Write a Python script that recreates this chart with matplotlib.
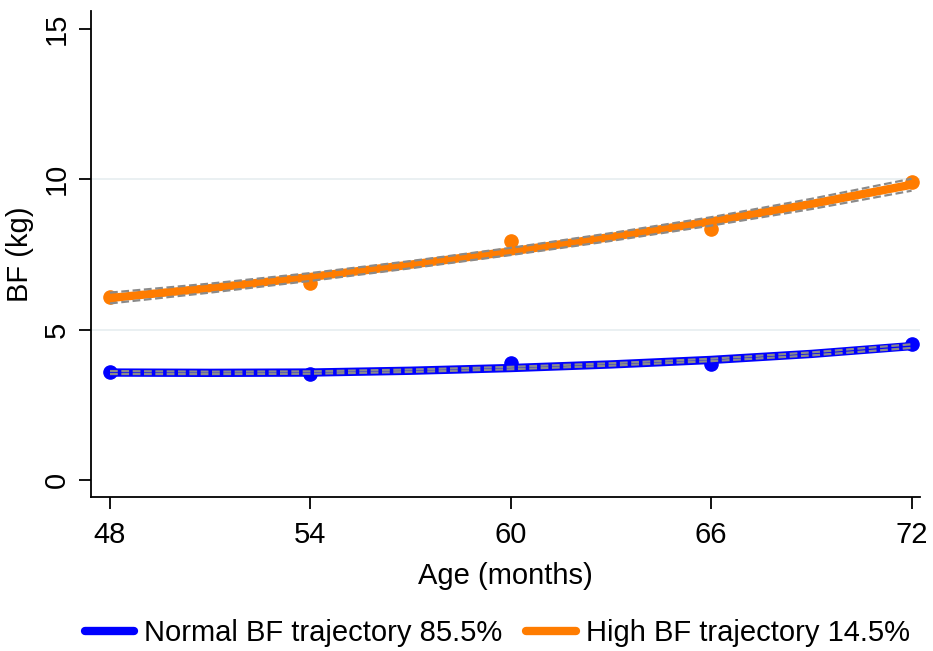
import matplotlib
matplotlib.use("Agg")
import matplotlib.pyplot as plt
from matplotlib.lines import Line2D

plt.rcParams['font.family'] = ['Liberation Sans', 'DejaVu Sans']

# observed means
ages = [48, 54, 60, 66, 72]
normal_obs = [3.60, 3.52, 3.88, 3.87, 4.53]
high_obs = [6.08, 6.56, 7.94, 8.36, 9.91]

# fitted trajectories with 95% CI
fit_ages = [48, 51, 54, 57, 60, 63, 66, 69, 72]
normal_fit = [3.57, 3.56, 3.57, 3.63, 3.72, 3.84, 3.99, 4.19, 4.45]
normal_lo = [3.52, 3.52, 3.53, 3.59, 3.68, 3.80, 3.95, 4.14, 4.39]
normal_hi = [3.62, 3.60, 3.61, 3.67, 3.76, 3.88, 4.03, 4.24, 4.51]
high_fit = [6.05, 6.38, 6.75, 7.16, 7.60, 8.08, 8.60, 9.18, 9.82]
high_lo = [5.87, 6.23, 6.62, 7.04, 7.48, 7.95, 8.46, 9.01, 9.62]
high_hi = [6.23, 6.53, 6.88, 7.28, 7.72, 8.21, 8.74, 9.35, 10.02]

labels = ["Normal BF trajectory 85.5%", "High BF trajectory 14.5%"]
xticks = [48, 54, 60, 66, 72]
yticks = [0, 5, 10, 15]

blue = "#0000ff"
orange = "#ff7c00"
ci_col = "#8a8a8a"
FS = 21

fig = plt.figure(figsize=(9.33, 6.51), dpi=100)
ax = fig.add_axes([0.0975, 0.2366, 0.8885, 0.7465])

for y in [5, 10]:
    ax.axhline(y, color="#e6edf0", lw=1.2, zorder=0)

series = [
    (normal_obs, normal_fit, normal_lo, normal_hi, blue),
    (high_obs, high_fit, high_lo, high_hi, orange),
]
for obs, fit, lo, hi, col in series:
    ax.plot(fit_ages, fit, color=col, lw=6, solid_capstyle="round", zorder=3)
    ax.plot(ages, obs, "o", color=col, ms=9.5, zorder=3)
    ax.plot(fit_ages, lo, color=ci_col, lw=1.6, ls=(0, (3.5, 1.6)), zorder=4)
    ax.plot(fit_ages, hi, color=ci_col, lw=1.6, ls=(0, (3.5, 1.6)), zorder=4)

ax.set_xlim(47.43, 72.25)
ax.set_ylim(-0.57, 15.6)
ax.set_xticks(xticks)
ax.set_yticks(yticks)
ax.set_xticklabels([str(v) for v in xticks])
ax.set_yticklabels([str(v) for v in yticks], rotation=90, va="center")
ax.tick_params(axis="both", direction="out", length=8.5, width=1.3, labelsize=FS, pad=6, color="black")
ax.tick_params(axis="x", pad=9)
for s in ["top", "right"]:
    ax.spines[s].set_visible(False)
for s in ["left", "bottom"]:
    ax.spines[s].set_linewidth(1.3)
    ax.spines[s].set_color("black")

ax.set_xlabel("Age (months)", fontsize=FS, labelpad=9)
ax.set_ylabel("BF (kg)", fontsize=FS, labelpad=6)

handles = [Line2D([], [], color=blue, lw=6, solid_capstyle="round"),
           Line2D([], [], color=orange, lw=6, solid_capstyle="round")]
fig.legend(handles, labels, loc="lower center", bbox_to_anchor=(0.533, -0.034),
           ncol=2, frameon=False, fontsize=FS, handlelength=1.7, handletextpad=0.35,
           columnspacing=0.8)

fig.savefig("out.png", dpi=100)
